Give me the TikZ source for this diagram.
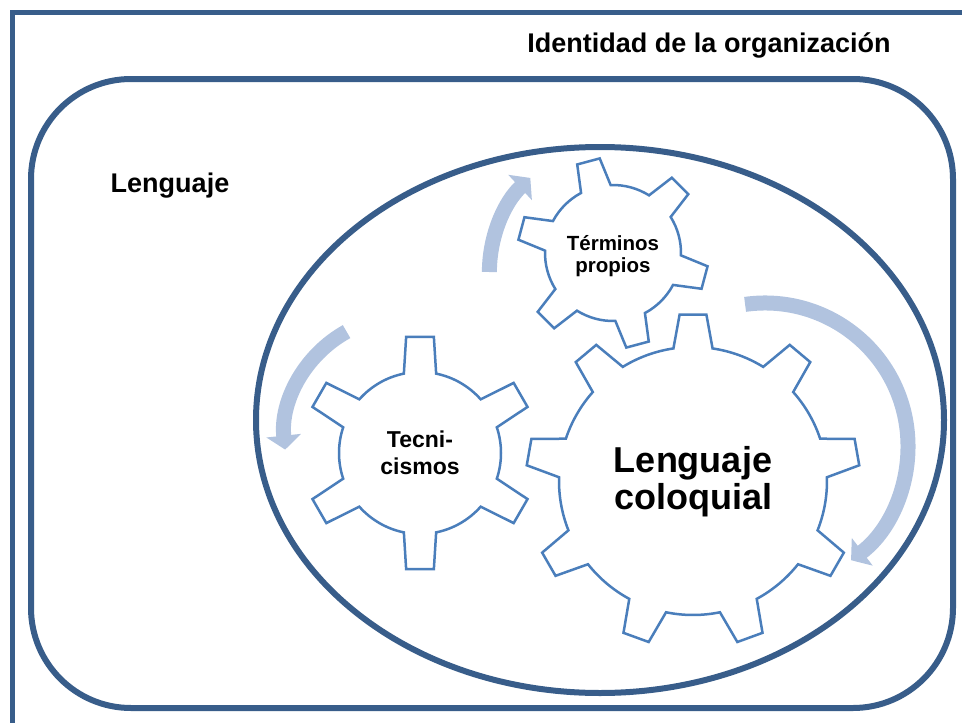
\documentclass[tikz,border=0pt]{standalone}
\usepackage{fontspec}
\setmainfont{Liberation Sans}
\usetikzlibrary{arrows.meta}

\definecolor{framebl}{HTML}{385D8A}
\definecolor{gearbl}{HTML}{4A7EBB}
\definecolor{arrowbl}{HTML}{B1C3DF}

\begin{document}
\begin{tikzpicture}[
    x = 1pt, y = -1pt, %
    line join = miter, %
    gearline/.style = {draw = gearbl, line width = 2.5pt, fill = white},
    bluearr/.style = {draw = arrowbl, line width = 15pt, -{Triangle[length=14pt,width=34pt]}},
    lbl/.style = {inner sep = 0pt, font = \fontsize{27}{30}\selectfont\bfseries}
    ]

    \tikzset{gtext/.style = {inner sep = 0pt, align = center}}

    \clip (0,0) rectangle (962,723);

    % frames
    \draw[framebl, line width = 5pt] (12.5,12.5) rectangle (1000,760);
    \draw[framebl, line width = 6pt, rounded corners = 100pt] (31,79) rectangle (953,708);
    \draw[framebl, line width = 6pt] (600,420) ellipse [x radius = 344, y radius = 273];

    \node[lbl] (ident) at (709,45) {Identidad de la organización};
    \node[lbl] (leng)  at (170,186) {Lenguaje};

    \coordinate (big)  at (693,481);
    \coordinate (tec)  at (420,453);
    \coordinate (term) at (613,253);

    % gears
    \begin{scope}[shift = {(big)}]
    \draw[gearline] ({-90-8.4}:134) \foreach \k in {0,...,8} {
        -- ({-90+40*\k-4.6}:167) -- ({-90+40*\k+4.6}:167) -- ({-90+40*\k+8.4}:134)
        arc[start angle = {-90+40*\k+8.4}, end angle = {-50+40*\k-8.4}, radius = 134]
        } -- cycle;
    \end{scope}

    \begin{scope}[shift = {(tec)}]
    \draw[gearline] ({-90-11.5}:81) \foreach \k in {0,...,5} {
        -- ({-90+60*\k-6.8}:117) -- ({-90+60*\k+6.8}:117) -- ({-90+60*\k+11.5}:81)
        arc[start angle = {-90+60*\k+11.5}, end angle = {-30+60*\k-11.5}, radius = 81]
        } -- cycle;
    \end{scope}

    \begin{scope}[shift = {(term)}]
    \draw[gearline] ({-105-13}:68) \foreach \k in {0,...,5} {
        -- ({-105+60*\k-7}:95.5) -- ({-105+60*\k+7}:95.5) -- ({-105+60*\k+13}:68)
        arc[start angle = {-105+60*\k+13}, end angle = {-45+60*\k-13}, radius = 68]
        } -- cycle;
    \end{scope}

    \node[gtext, font = \fontsize{36}{37}\selectfont\bfseries] (coloq) at (693,482) {Lenguaje\\coloquial};
    \node[gtext, font = \fontsize{23}{27}\selectfont\bfseries] (tecni) at (420,453) {Tecni-\\cismos};
    \node[gtext, font = \fontsize{20.5}{22}\selectfont\bfseries] (termi) at (613,256) {Términos\\propios};

    % rotation arrows
    \coordinate (arrA) at (618,272);
    \coordinate (arrB) at (405,437);
    \coordinate (arrC) at (765,446);

    \draw[bluearr] (arrA) ++(180:128.6) arc[start angle = 180, end angle = 227, radius = 128.6];
    \draw[bluearr] (arrB) ++(241:120.5) arc[start angle = 241, end angle = 174, radius = 120.5];
    \draw[bluearr] (arrC) ++(-98:143) arc[start angle = -98, end angle = 53, radius = 143];

\end{tikzpicture}
\end{document}
